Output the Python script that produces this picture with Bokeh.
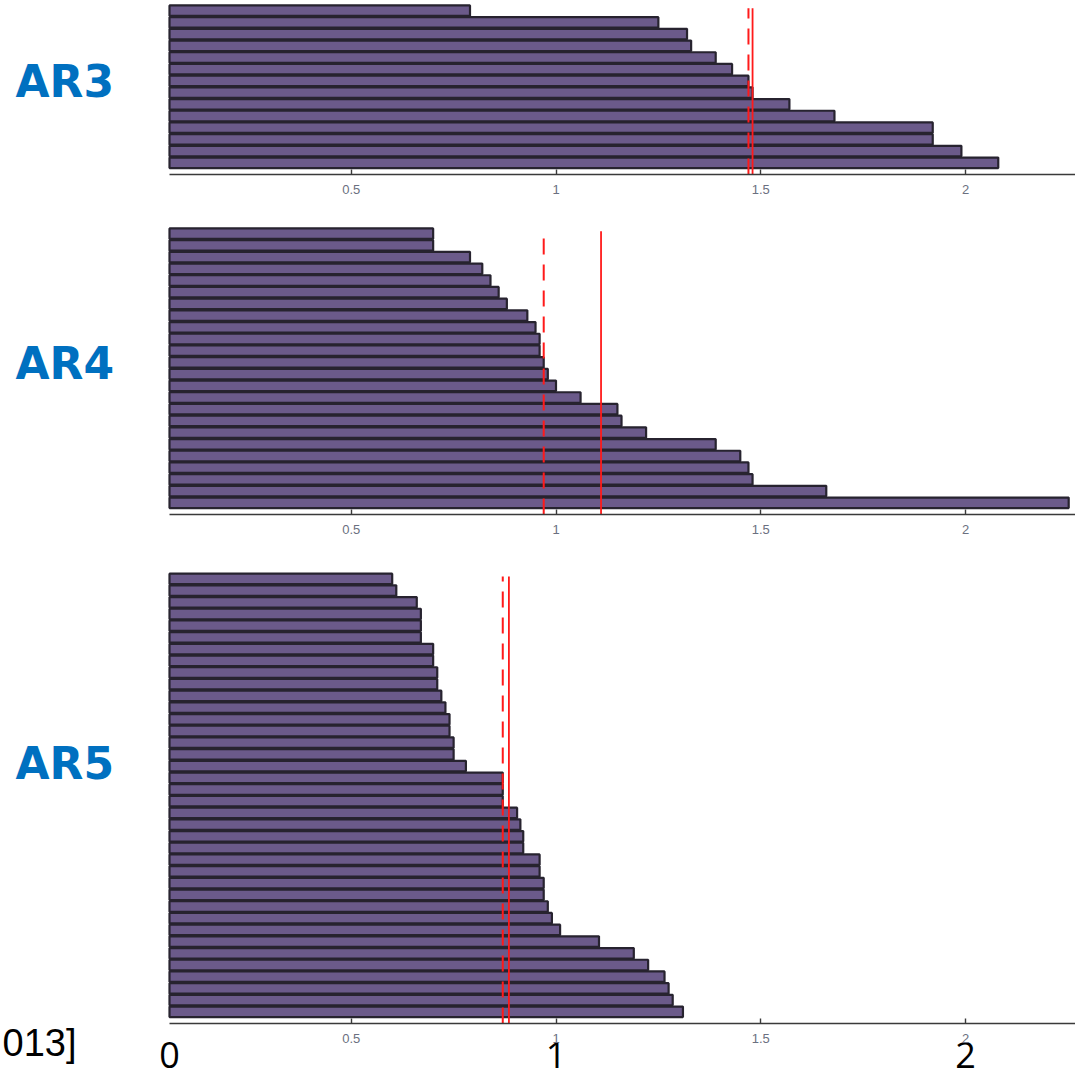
from bokeh.plotting import figure
from bokeh.models import LinearAxis, FixedTicker, Range1d, ColumnDataSource
from bokeh.core.properties import value
from bokeh.embed import file_html
from bokeh.resources import INLINE

# ---------------- data ----------------
panel_names = ["AR3", "AR4", "AR5"]

ar3_values = [0.79, 1.25, 1.32, 1.33, 1.39, 1.43, 1.47, 1.48, 1.57, 1.68,
              1.92, 1.92, 1.99, 2.08]
ar3_median = 1.47
ar3_mean = 1.48

ar4_values = [0.70, 0.70, 0.79, 0.82, 0.84, 0.86, 0.88, 0.93, 0.95, 0.96,
              0.96, 0.97, 0.98, 1.00, 1.06, 1.15, 1.16, 1.22, 1.39, 1.45,
              1.47, 1.48, 1.66, 2.252]
ar4_median = 0.97
ar4_mean = 1.11

ar5_values = [0.60, 0.61, 0.66, 0.67, 0.67, 0.67, 0.70, 0.70, 0.71, 0.71,
              0.72, 0.73, 0.74, 0.74, 0.75, 0.75, 0.78, 0.87, 0.87, 0.87,
              0.905, 0.913, 0.92, 0.92, 0.96, 0.96, 0.97, 0.97, 0.98, 0.99,
              1.01, 1.105, 1.19, 1.225, 1.265, 1.275, 1.285, 1.31]
ar5_median = 0.87
ar5_mean = 0.885

tick_vals = [0.5, 1, 1.5, 2]
tick_labels = ["0.5", "1", "1.5", "2"]

big_tick_vals = [0, 1, 2]
big_tick_labels = ["0", "1", "2"]

citation = "013]"

# ---------------- layout constants (pixels) ----------------
W, H = 1075, 1079
PITCH = 11.7                 # px per bar row
ZERO_PX, UNIT_PX = 146.0, 409.5   # x position of value 0, px per unit
X_MIN = (0 - ZERO_PX) / UNIT_PX
X_MAX = (W - ZERO_PX) / UNIT_PX
X_START = (169 - ZERO_PX) / UNIT_PX   # left limit of the bar plots

axis_px = [174, 514, 1023]           # vertical position of each panel's axis
label_mid_px = [81, 363, 763]        # vertical centre of the AR labels
bases = [(H - a) / PITCH for a in axis_px]

BAR_FILL = "#6b5a8a"
BAR_LINE = "#27232f"
LABEL_BLUE = "#0070c0"
RED = "#ff1a1a"

p = figure(width=W, height=H,
           x_range=Range1d(X_MIN, X_MAX), y_range=Range1d(0, H / PITCH),
           output_backend="svg", toolbar_location=None,
           x_axis_location=None, y_axis_location=None,
           min_border=0, min_border_left=0, min_border_right=0,
           min_border_top=0, min_border_bottom=0)
p.outline_line_color = None
p.xgrid.visible = False
p.ygrid.visible = False

panels = [
    (ar3_values, ar3_median, ar3_mean),
    (ar4_values, ar4_median, ar4_mean),
    (ar5_values, ar5_median, ar5_mean),
]

for k, ((vals, med, mean), base, name, lm) in enumerate(
        zip(panels, bases, panel_names, label_mid_px)):
    n = len(vals)
    ys = [base + (n - i) for i in range(n)]
    src = ColumnDataSource(dict(y=ys, right=vals, left=[X_START] * n))
    p.hbar(y="y", left="left", right="right", height=0.9, source=src,
           fill_color=BAR_FILL, line_color=BAR_LINE, line_width=2.2)

    top = base + n + 0.2
    p.segment(x0=[med], y0=[base], x1=[med], y1=[top],
              line_color=RED, line_width=2, line_dash="16 10")
    p.segment(x0=[mean], y0=[base], x1=[mean], y1=[top],
              line_color=RED, line_width=1.8)

    ax = LinearAxis(fixed_location=base, bounds=(X_START, X_MAX))
    ax.ticker = FixedTicker(ticks=tick_vals)
    ax.major_label_overrides = dict(zip(tick_vals, tick_labels))
    ax.axis_line_color = "#3a3a3a"
    ax.axis_line_width = 1.6
    ax.major_tick_line_color = "#3a3a3a"
    ax.major_tick_line_width = 1.4
    ax.major_tick_in = 5
    ax.major_tick_out = 0
    ax.minor_tick_line_color = None
    ax.major_label_standoff = 10
    ax.major_label_text_font = "Liberation Sans"
    ax.major_label_text_font_size = "13px"
    ax.major_label_text_color = "#6b7080"
    p.add_layout(ax, "below")

    p.text(x=[(15 - ZERO_PX) / UNIT_PX], y=[(H - lm) / PITCH], text=[name],
           text_font=value("DejaVu Sans"), text_font_style="bold",
           text_font_size="44px", text_color=LABEL_BLUE,
           text_align="left", text_baseline="middle")

# slide annotations under the last panel
big_x = [max(v, X_START) for v in big_tick_vals]
p.text(x=big_x, y=[(H - 1054.5) / PITCH] * len(big_x), text=big_tick_labels,
       text_font=value("Open Sans"), text_font_size="36px",
       text_color="black", text_align="center", text_baseline="middle")

p.text(x=[(2 - ZERO_PX) / UNIT_PX], y=[(H - 1042) / PITCH], text=[citation],
       text_font=value("Liberation Sans"), text_font_size="38px",
       text_color="black", text_align="left", text_baseline="middle")

open("out.html", "w").write(file_html(p, INLINE))
